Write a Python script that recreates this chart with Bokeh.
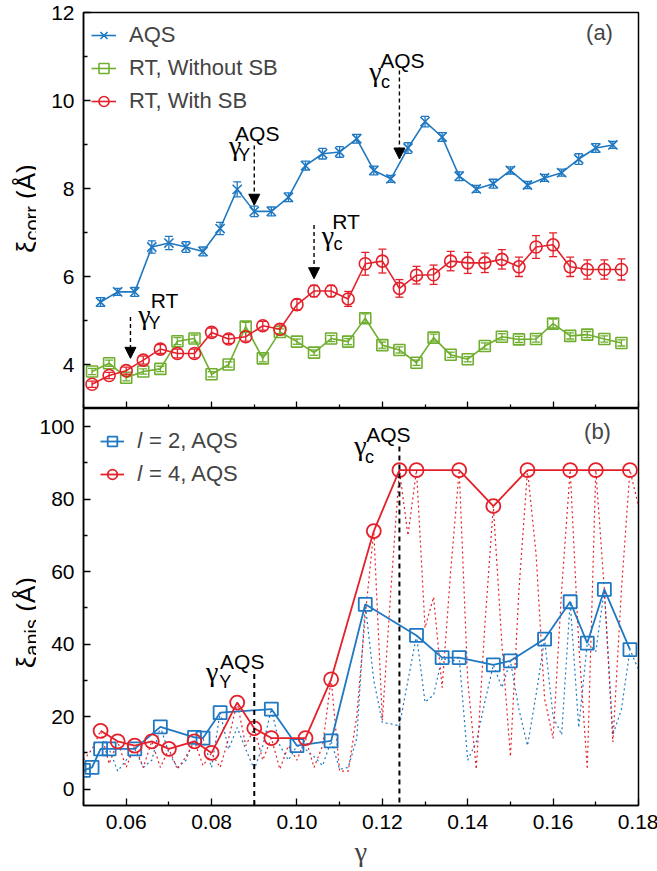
import math
from bokeh.plotting import figure
from bokeh.models import (FixedTicker, PrintfTickFormatter, CustomJSTickFormatter, Whisker,
                          TeeHead, Arrow, NormalHead, Label, Legend, LegendItem,
                          ColumnDataSource, Range1d)
from bokeh.core.properties import value
from bokeh.layouts import column, row
from bokeh.embed import file_html
from bokeh.resources import INLINE

# ---------------- data: panel (a) ----------------
gamma_aqs = [0.054, 0.058, 0.062, 0.066, 0.070, 0.074, 0.078, 0.082, 0.086, 0.090, 0.094,
             0.098, 0.102, 0.106, 0.110, 0.114, 0.118, 0.122, 0.126, 0.130, 0.134, 0.138,
             0.142, 0.146, 0.150, 0.154, 0.158, 0.162, 0.166, 0.170, 0.174]
xi_aqs = [5.42, 5.65, 5.65, 6.67, 6.76, 6.67, 6.57, 7.09, 7.98, 7.48, 7.48,
          7.80, 8.52, 8.79, 8.83, 9.13, 8.41, 8.22, 8.92, 9.52, 9.17, 8.28,
          7.99, 8.11, 8.41, 8.08, 8.24, 8.36, 8.67, 8.92, 8.99]
err_aqs = [0.10, 0.08, 0.10, 0.14, 0.15, 0.12, 0.10, 0.14, 0.17, 0.12, 0.10,
           0.10, 0.10, 0.12, 0.12, 0.10, 0.10, 0.08, 0.12, 0.12, 0.10, 0.10,
           0.08, 0.10, 0.08, 0.08, 0.08, 0.08, 0.12, 0.10, 0.08]

gamma_rt = [0.052, 0.056, 0.060, 0.064, 0.068, 0.072, 0.076, 0.080, 0.084, 0.088, 0.092,
            0.096, 0.100, 0.104, 0.108, 0.112, 0.116, 0.120, 0.124, 0.128, 0.132, 0.136,
            0.140, 0.144, 0.148, 0.152, 0.156, 0.160, 0.164, 0.168, 0.172, 0.176]
xi_nosb = [3.84, 4.03, 3.70, 3.84, 3.90, 4.53, 4.59, 3.78, 4.00, 4.86, 4.14,
           4.74, 4.52, 4.27, 4.59, 4.52, 5.05, 4.44, 4.33, 4.04, 4.61, 4.22,
           4.12, 4.42, 4.63, 4.57, 4.58, 4.93, 4.65, 4.68, 4.58, 4.49]
err_nosb = [0.07, 0.07, 0.07, 0.06, 0.06, 0.08, 0.08, 0.06, 0.06, 0.10, 0.08,
            0.07, 0.06, 0.06, 0.07, 0.07, 0.10, 0.07, 0.07, 0.06, 0.08, 0.06,
            0.06, 0.07, 0.07, 0.07, 0.07, 0.10, 0.07, 0.07, 0.07, 0.07]
xi_sb = [3.55, 3.75, 3.86, 4.10, 4.35, 4.25, 4.25, 4.73, 4.58, 4.63, 4.88,
         4.80, 5.36, 5.67, 5.67, 5.49, 6.29, 6.35, 5.73, 6.03, 6.04, 6.35,
         6.31, 6.31, 6.39, 6.22, 6.67, 6.72, 6.22, 6.16, 6.16, 6.16]
err_sb = [0.07, 0.07, 0.08, 0.09, 0.10, 0.10, 0.10, 0.10, 0.10, 0.10, 0.10,
          0.10, 0.12, 0.13, 0.13, 0.17, 0.26, 0.27, 0.20, 0.20, 0.22, 0.22,
          0.24, 0.22, 0.22, 0.22, 0.26, 0.27, 0.22, 0.22, 0.22, 0.24]

# ---------------- data: panel (b) ----------------
gamma_l2 = [0.050, 0.052, 0.054, 0.056, 0.062, 0.068, 0.076, 0.078, 0.082, 0.094, 0.100,
            0.108, 0.116, 0.128, 0.134, 0.138, 0.146, 0.150, 0.158, 0.164, 0.168, 0.172, 0.178]
xi_l2 = [5.2, 6.0, 11.1, 11.1, 11.1, 17.2, 14.3, 14.1, 21.1, 22.1, 12.0,
         13.3, 51.0, 42.4, 36.3, 36.3, 34.3, 35.4, 41.4, 51.7, 40.3, 55.1, 38.5]
gamma_l4 = [0.054, 0.058, 0.062, 0.066, 0.070, 0.076, 0.080, 0.086, 0.090, 0.094, 0.102,
            0.108, 0.118, 0.124, 0.128, 0.138, 0.146, 0.154, 0.164, 0.170, 0.178]
xi_l4 = [16.1, 13.2, 12.0, 13.2, 11.1, 13.2, 10.0, 23.9, 16.8, 14.1, 14.1,
         30.3, 71.2, 88.0, 88.0, 88.0, 78.1, 88.0, 88.0, 88.0, 88.0]

gamma_raw = [0.050, 0.052, 0.054, 0.056, 0.058, 0.060, 0.062, 0.064, 0.066, 0.068, 0.070,
             0.072, 0.074, 0.076, 0.078, 0.080, 0.082, 0.084, 0.086, 0.088, 0.090, 0.092,
             0.094, 0.096, 0.098, 0.100, 0.102, 0.104, 0.106, 0.108, 0.110, 0.112, 0.114,
             0.116, 0.118, 0.120, 0.122, 0.124, 0.126, 0.128, 0.130, 0.132, 0.134, 0.136,
             0.138, 0.140, 0.142, 0.144, 0.146, 0.148, 0.150, 0.152, 0.154, 0.156, 0.158,
             0.160, 0.162, 0.164, 0.166, 0.168, 0.170, 0.172, 0.174, 0.176, 0.178, 0.180]
raw_l2 = [5.0, 6.0, 11.1, 11.1, 5.0, 8.0, 11.1, 6.0, 8.0, 17.2, 10.0,
          6.0, 8.0, 14.3, 14.1, 6.0, 21.1, 11.0, 17.0, 11.0, 5.5, 12.0,
          22.1, 12.0, 8.0, 12.0, 11.0, 9.0, 6.5, 13.3, 5.5, 6.0, 14.0,
          51.0, 30.0, 18.4, 18.0, 17.5, 30.0, 42.4, 24.0, 26.0, 36.3, 35.0,
          36.3, 8.0, 13.0, 24.0, 34.3, 28.0, 35.4, 22.0, 12.0, 26.0, 41.4,
          20.0, 15.0, 51.7, 17.0, 40.3, 38.0, 55.1, 15.0, 22.0, 38.5, 33.0]
raw_l4 = [8.0, 11.0, 16.1, 7.0, 13.2, 6.0, 12.0, 6.0, 13.2, 6.0, 11.1,
          5.5, 9.0, 13.2, 6.5, 10.0, 6.0, 14.0, 23.9, 12.0, 16.8, 8.0,
          14.1, 5.5, 12.0, 8.0, 14.1, 6.0, 12.0, 30.3, 5.0, 5.0, 20.0,
          48.0, 71.2, 19.0, 55.0, 88.0, 70.0, 88.0, 44.5, 53.0, 28.0, 60.0,
          88.0, 30.0, 5.5, 45.0, 78.1, 40.0, 9.0, 55.0, 88.0, 65.0, 25.0,
          14.0, 55.0, 88.0, 40.0, 5.5, 88.0, 55.0, 13.0, 55.0, 88.0, 78.0]

# annotation positions (strain values)
g_Y_aqs, g_c_aqs, g_Y_rt, g_c_rt = 0.090, 0.124, 0.061, 0.104

x_major = [0.06, 0.08, 0.10, 0.12, 0.14, 0.16, 0.18]
x_minor = [0.05, 0.07, 0.09, 0.11, 0.13, 0.15, 0.17]
ya_major = [4, 6, 8, 10, 12]
ya_minor = [3, 5, 7, 9, 11]
yb_major = [0, 20, 40, 60, 80, 100]
yb_minor = [-10, 10, 30, 50, 70, 90]

BLUE = "#1f78c1"
RED = "#e4202a"
GREEN = "#6fae2f"
SANS = "Liberation Sans"
SERIF = "Liberation Serif"

LAB_W = 36          # width of the strip holding the rotated y-axis titles
FRAME_W = 555
TOP_H1, FRAME_H1 = 12, 396
FRAME_H2, BOT_H2 = 397, 64


def style_axis(ax, labels=True):
    ax.axis_line_width = 1.5
    ax.axis_line_color = "black"
    ax.major_tick_in = 7
    ax.major_tick_out = 0
    ax.minor_tick_in = 4
    ax.minor_tick_out = 0
    ax.major_tick_line_width = 1.3
    ax.minor_tick_line_width = 1.3
    ax.major_tick_line_color = "black"
    ax.minor_tick_line_color = "black"
    ax.major_label_text_font = SANS
    ax.major_label_text_color = "black"
    if labels:
        ax.major_label_text_font_size = "21px"
        ax.major_label_standoff = 9
    else:
        ax.major_label_text_font_size = "0px"
        ax.major_label_standoff = 0


def make_fig(y_range, frame_h, top, bottom, bottom_labels):
    p = figure(frame_width=FRAME_W, frame_height=frame_h,
               x_range=Range1d(0.05, 0.18), y_range=y_range,
               output_backend="svg", toolbar_location=None, title=None,
               min_border_left=81 - LAB_W, min_border_right=20,
               min_border_top=top, min_border_bottom=bottom)
    p.grid.visible = False
    p.outline_line_color = "black"
    p.outline_line_width = 1.5
    p.background_fill_color = "white"
    p.border_fill_color = "white"
    p.xaxis.ticker = FixedTicker(ticks=x_major, minor_ticks=x_minor)
    if bottom_labels:
        p.xaxis.formatter = PrintfTickFormatter(format="%.2f")
    else:
        p.xaxis.formatter = CustomJSTickFormatter(code="return ''")
    style_axis(p.xaxis[0], labels=bottom_labels)
    style_axis(p.yaxis[0], labels=True)
    return p


H1 = TOP_H1 + FRAME_H1
H2 = FRAME_H2 + BOT_H2
H_ALL = H1 + H2

# glyph advance widths (em) of Liberation Sans, used to chain the title pieces
ADV = {"ξ": 0.47, "c": 0.5, "o": 0.556, "r": 0.333, "a": 0.556, "n": 0.556, "i": 0.222,
       "s": 0.5, " ": 0.278, "(": 0.333, "Å": 0.667, ")": 0.333}


def text_w(t, size):
    return sum(ADV[ch] for ch in t) * size


strip = figure(width=LAB_W, height=H_ALL, x_range=Range1d(0, LAB_W), y_range=Range1d(0, H_ALL),
               output_backend="svg", toolbar_location=None, title=None, x_axis_location=None,
               y_axis_location=None, min_border_left=0, min_border_right=0,
               min_border_top=0, min_border_bottom=0, outline_line_color=None)
strip.grid.visible = False
strip.border_fill_color = "white"
strip.background_fill_color = "white"


def axis_title(center_from_top, sub):
    big, small, unit = 26, 20, 26
    w_xi = text_w("ξ", big)
    w_sub = text_w(sub, small)
    w_gap = text_w(" ", unit)
    w_unit = text_w("(Å)", unit)
    total = w_xi + w_sub + w_gap + w_unit
    y0 = H_ALL - center_from_top - total / 2
    base = 25
    ang = math.pi / 2
    common = dict(angle=ang, text_font=value(SANS), text_align="left",
                  text_baseline="alphabetic", text_color="black")
    strip.text(x=[base], y=[y0], text=["ξ"], text_font_size=value(f"{big}px"), **common)
    strip.text(x=[base + 6], y=[y0 + w_xi], text=[sub], text_font_size=value(f"{small}px"),
               **common)
    strip.text(x=[base], y=[y0 + w_xi + w_sub + w_gap], text=["(Å)"],
               text_font_size=value(f"{unit}px"), **common)


axis_title(208, "corr")
axis_title(622, "anis")

# ================= panel (a) =================
p1 = make_fig(Range1d(3, 12), FRAME_H1, TOP_H1, 0, False)
p1.yaxis.ticker = FixedTicker(ticks=ya_major, minor_ticks=ya_minor)


def series(p, x, y, err, color, marker, size):
    src = ColumnDataSource(dict(x=x, y=y, lo=[a - b for a, b in zip(y, err)],
                                hi=[a + b for a, b in zip(y, err)]))
    w = Whisker(base="x", lower="lo", upper="hi", source=src, line_color=color, line_width=1.3,
                upper_head=TeeHead(size=8, line_color=color, line_width=1.3),
                lower_head=TeeHead(size=8, line_color=color, line_width=1.3))
    p.add_layout(w)
    ln = p.line("x", "y", source=src, line_color=color, line_width=1.6)
    sc = p.scatter("x", "y", source=src, marker=marker, size=size, line_color=color,
                   line_width=1.6, fill_color=None)
    return ln, sc


g_ln, g_sc = series(p1, gamma_rt, xi_nosb, err_nosb, GREEN, "square", 11)
r_ln, r_sc = series(p1, gamma_rt, xi_sb, err_sb, RED, "circle", 12)
b_ln, b_sc = series(p1, gamma_aqs, xi_aqs, err_aqs, BLUE, "x", 13)

leg1 = Legend(items=[LegendItem(label="AQS", renderers=[b_ln, b_sc]),
                     LegendItem(label="RT, Without SB", renderers=[g_ln, g_sc]),
                     LegendItem(label="RT, With SB", renderers=[r_ln, r_sc])],
              location="top_left", margin=8, padding=0, spacing=3,
              glyph_width=25, glyph_height=30, label_height=30, label_standoff=13,
              label_text_font=SANS, label_text_font_size="22px",
              background_fill_alpha=0, border_line_color=None)
p1.add_layout(leg1)

head = dict(size=11, fill_color="black", line_color="black")


def arrow(p, x, y0, y1):
    p.add_layout(Arrow(x_start=x, y_start=y0, x_end=x, y_end=y1, line_dash="4 3",
                       line_width=1.4, line_color="black", end=NormalHead(**head)))


def gamma_label(p, x, y, parts):
    for txt, dx, dy, size, font in parts:
        p.add_layout(Label(x=x, y=y, x_offset=dx, y_offset=-dy, text=txt,
                           text_font=font, text_font_size=size, text_align="center",
                           text_baseline="middle", text_color="black"))


arrow(p1, g_Y_aqs, 8.98, 7.62)
gamma_label(p1, g_Y_aqs, 8.98, [("γ", -19, 0, "28px", SERIF), ("Y", -10, 10, "18px", SANS),
                                ("AQS", 3, -12, "21px", SANS)])
arrow(p1, g_c_aqs, 10.68, 8.67)
gamma_label(p1, g_c_aqs, 10.68, [("γ", -24, 1, "28px", SERIF), ("c", -14, 11, "18px", SANS),
                                 ("AQS", 3, -10, "21px", SANS)])
arrow(p1, g_c_rt, 7.17, 5.95)
gamma_label(p1, g_c_rt, 7.17, [("γ", 14, 10, "28px", SERIF), ("c", 24, 19, "18px", SANS),
                               ("RT", 32, -4, "21px", SANS)])
arrow(p1, g_Y_rt, 5.08, 4.14)
gamma_label(p1, g_Y_rt, 5.08, [("γ", 14, -2, "28px", SERIF), ("Y", 24, 6, "18px", SANS),
                               ("RT", 34, -16, "21px", SANS)])

p1.add_layout(Label(x=0.18, y=12, x_offset=-39, y_offset=-20, text="(a)", text_font=SANS,
                    text_font_size="22px", text_align="center", text_baseline="middle"))

# ================= panel (b) =================
p2 = make_fig(Range1d(-4.5, 105), FRAME_H2, 0, BOT_H2, True)
p2.yaxis.ticker = FixedTicker(ticks=yb_major, minor_ticks=yb_minor)
p2.xaxis.axis_label = "γ"
p2.xaxis.axis_label_text_font = SERIF
p2.xaxis.axis_label_text_font_style = "normal"
p2.xaxis.axis_label_text_font_size = "28px"
p2.xaxis.axis_label_standoff = 4

p2.line(gamma_raw, raw_l2, line_color=BLUE, line_width=1.2, line_dash="2 3")
p2.line(gamma_raw, raw_l4, line_color=RED, line_width=1.2, line_dash="2 3")

p2.add_layout(Arrow(x_start=g_Y_aqs, y_start=31.8, x_end=g_Y_aqs, y_end=-4.5, line_dash="5 4",
                    line_width=2, line_color="black", end=None))
p2.add_layout(Arrow(x_start=g_c_aqs, y_start=94.5, x_end=g_c_aqs, y_end=-4.5, line_dash="5 4",
                    line_width=2, line_color="black", end=None))

l2_ln = p2.line(gamma_l2, xi_l2, line_color=BLUE, line_width=1.8)
l2_sc = p2.scatter(gamma_l2, xi_l2, marker="square", size=13, line_color=BLUE, line_width=1.8,
                   fill_color=None)
l4_ln = p2.line(gamma_l4, xi_l4, line_color=RED, line_width=1.8)
l4_sc = p2.scatter(gamma_l4, xi_l4, marker="circle", size=14, line_color=RED, line_width=1.8,
                   fill_color=None)

leg2 = Legend(items=[LegendItem(label="𝑙 = 2, AQS", renderers=[l2_ln, l2_sc]),
                     LegendItem(label="𝑙 = 4, AQS", renderers=[l4_ln, l4_sc])],
              location="top_left", margin=17, padding=0, spacing=1,
              glyph_width=24, glyph_height=32, label_height=32, label_standoff=13,
              label_text_font=SANS, label_text_font_size="22px",
              background_fill_alpha=0, border_line_color=None)
p2.add_layout(leg2)

gamma_label(p2, g_c_aqs, 94.5, [("γ", -39, -1, "28px", SERIF), ("c", -30, 10, "18px", SANS),
                                ("AQS", -11, -12, "21px", SANS)])
gamma_label(p2, g_Y_aqs, 31.8, [("γ", -42, -2, "28px", SERIF), ("Y", -29, 8, "18px", SANS),
                                ("AQS", -12, -12, "21px", SANS)])
p2.add_layout(Label(x=0.18, y=105, x_offset=-41, y_offset=-23, text="(b)", text_font=SANS,
                    text_font_size="22px", text_align="center", text_baseline="middle"))

layout = row(strip, column(p1, p2, spacing=0), spacing=0)
open("out.html", "w").write(file_html(layout, INLINE))
